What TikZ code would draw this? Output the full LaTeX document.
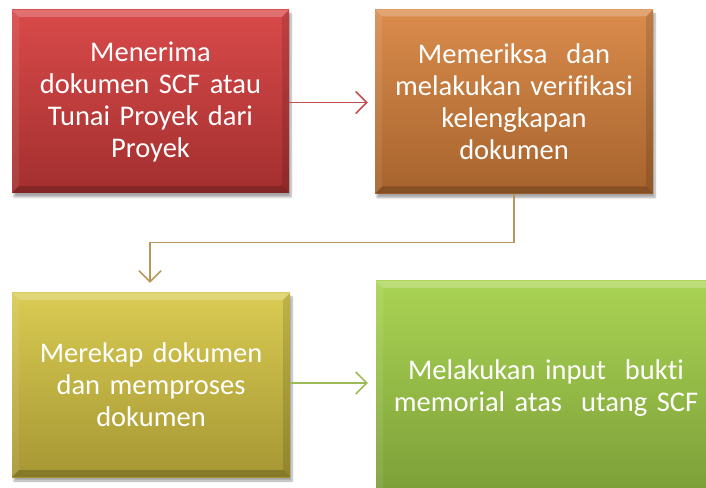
\documentclass[tikz,border=0pt]{standalone}
\usepackage{fontspec}
\setmainfont[Ligatures=NoCommon,WordSpace=0.85]{Carlito}
\usetikzlibrary{arrows.meta,shadows.blur}
\definecolor{redtop}{HTML}{D94A4A}
\definecolor{redbot}{HTML}{A32F2F}
\definecolor{orgtop}{HTML}{DA8C4C}
\definecolor{orgbot}{HTML}{A6632D}
\definecolor{yeltop}{HTML}{D9CB52}
\definecolor{yelbot}{HTML}{A69734}
\definecolor{grntop}{HTML}{AAD454}
\definecolor{grnbot}{HTML}{7C9E38}
\definecolor{redline}{HTML}{C0504D}
\definecolor{tanline}{HTML}{B8985A}
\definecolor{grnline}{HTML}{9BBB59}
\tikzset{
  x=1pt,y=1pt,
  bevel/.style={path picture={
    \def\bw{7pt}
    \fill[white,opacity=0.22] (path picture bounding box.north west) -- (path picture bounding box.north east) -- ([xshift=-\bw,yshift=-\bw]path picture bounding box.north east) -- ([xshift=\bw,yshift=-\bw]path picture bounding box.north west) -- cycle;
    \fill[white,opacity=0.08] (path picture bounding box.north west) -- ([xshift=\bw,yshift=-\bw]path picture bounding box.north west) -- ([xshift=\bw,yshift=\bw]path picture bounding box.south west) -- (path picture bounding box.south west) -- cycle;
    \fill[black,opacity=0.12] (path picture bounding box.north east) -- ([xshift=-\bw,yshift=-\bw]path picture bounding box.north east) -- ([xshift=-\bw,yshift=\bw]path picture bounding box.south east) -- (path picture bounding box.south east) -- cycle;
    \fill[black,opacity=0.2] (path picture bounding box.south west) -- ([xshift=\bw,yshift=\bw]path picture bounding box.south west) -- ([xshift=-\bw,yshift=\bw]path picture bounding box.south east) -- (path picture bounding box.south east) -- cycle;
  }},
  procbox/.style={rectangle, inner sep=0pt, align=center, text=white,
    font=\fontsize{28.5}{32}\selectfont, bevel,
    blur shadow={shadow xshift=2pt, shadow yshift=-4pt, shadow opacity=35, shadow blur steps=6}},
  conn/.style={line width=1.6pt, arrows={-Straight Barb[length=11pt,width=22pt,line width=1.6pt]}},
}
\begin{document}
\begin{tikzpicture}
\useasboundingbox (0,0) rectangle (706,487);
\node[procbox, top color=redtop, bottom color=redbot, minimum width=277pt, minimum height=183pt, text width=260pt] (b1) at (150.5,385.5)
  {Menerima\\dokumen SCF atau\\Tunai Proyek dari\\Proyek};
\node[procbox, top color=orgtop, bottom color=orgbot, minimum width=278pt, minimum height=184pt, text width=270pt] (b2) at (514,385.5)
  {Memeriksa\ \ dan\\melakukan verifikasi\\kelengkapan\\dokumen};
\node[procbox, top color=yeltop, bottom color=yelbot, minimum width=278pt, minimum height=184pt, text width=270pt] (b3) at (151,102)
  {Merekap dokumen\\dan memproses\\dokumen};
\node[procbox, top color=grntop, bottom color=grnbot, minimum width=340pt, minimum height=215pt, text width=330pt] (b4) at (546,98.5)
  {Melakukan input\ \ bukti\\memorial atas\ \ utang SCF};
\draw[conn, redline, shorten >=7pt] ([yshift=-1pt]b1.east) -- ([yshift=-1pt]b1.east -| b2.west);
\draw[conn, tanline, shorten >=10pt] (b2.south) |- ++(0,-49) -| ([xshift=-1pt]b3.north);
\draw[conn, grnline, shorten >=8pt] ([yshift=2pt]b3.east) -- ([yshift=2pt]b3.east -| b4.west);
\end{tikzpicture}
\end{document}
